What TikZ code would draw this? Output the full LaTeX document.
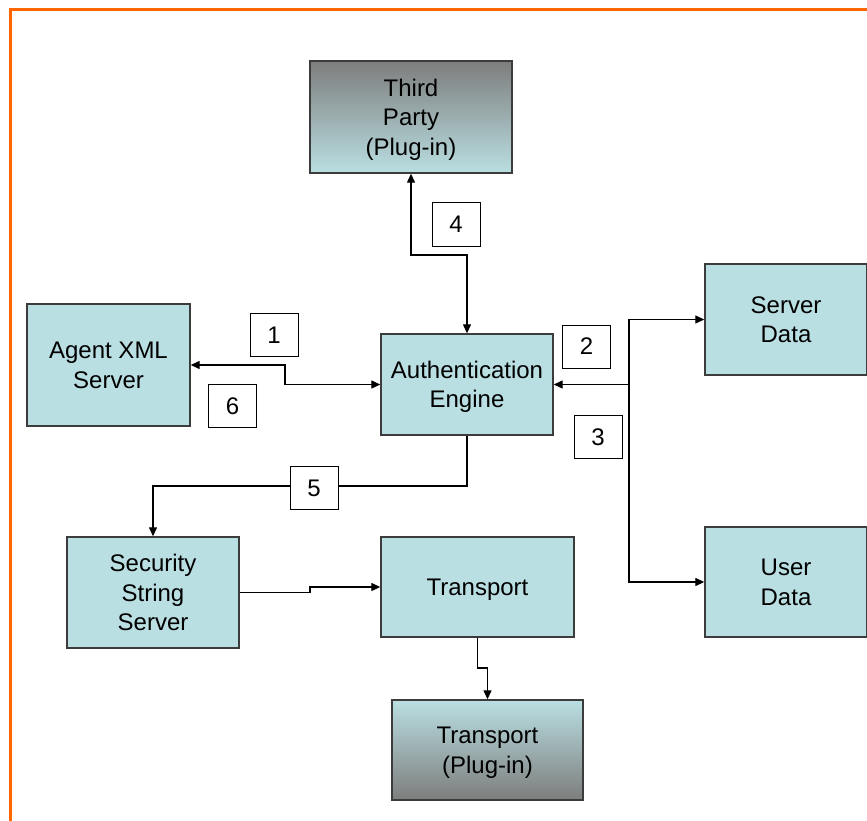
\documentclass[tikz,border=0pt]{standalone}
\usepackage{fontspec}
\setmainfont{Liberation Sans}
\usetikzlibrary{arrows.meta}
\definecolor{boxfill}{RGB}{186,223,226}
\definecolor{boxedge}{RGB}{60,60,60}
\definecolor{plugdark}{RGB}{125,125,125}
\definecolor{frameorange}{RGB}{255,102,0}
\tikzset{
  box/.style={draw=boxedge, line width=1.4pt, fill=boxfill, rectangle,
    align=center, inner sep=0pt, text depth=0pt,
    font=\fontsize{24}{29.5}\selectfont},
  plugtop/.style={box, shading=axis, top color=plugdark,
    middle color=boxfill!65!plugdark, bottom color=boxfill},
  plugbottom/.style={box, shading=axis, top color=boxfill,
    middle color=boxfill!80!plugdark, bottom color=plugdark},
  tag/.style={draw=black, line width=1pt, fill=white, minimum width=48pt,
    minimum height=43pt, inner sep=0pt, font=\fontsize{24}{30}\selectfont},
  link/.style={draw=black, line width=1.3pt, -{Triangle[length=9pt,width=8pt]}},
  dlink/.style={draw=black, line width=1.3pt,
    {Triangle[length=9pt,width=8pt]}-{Triangle[length=9pt,width=8pt]}},
}
\begin{document}
\begin{tikzpicture}[x=1pt,y=-1pt]
\useasboundingbox (0,0) rectangle (867,821);
\fill[white] (0,0) rectangle (867,821);
% orange frame along the top and left edges
\draw[frameorange, line width=3pt] (10.5,821) -- (10.5,9.5) -- (867,9.5);

% components
\node[plugtop, minimum width=202pt, minimum height=112pt] (tp) at (411,117) {Third\\Party\\(Plug-in)};
\node[box, minimum width=163pt, minimum height=122pt] (agent) at (108.5,365) {Agent XML\\Server};
\node[box, minimum width=172pt, minimum height=101pt] (auth) at (467,384.5) {Authentication\\Engine};
\node[box, minimum width=162pt, minimum height=111pt] (sd) at (786,319.5) {Server\\Data};
\node[box, minimum width=162pt, minimum height=110pt] (ud) at (786,582) {User\\Data};
\node[box, minimum width=172pt, minimum height=111pt] (ss) at (153,592.5) {Security\\String\\Server};
\node[box, minimum width=193pt, minimum height=100pt] (tr) at (477.5,587) {Transport};
\node[plugbottom, minimum width=191pt, minimum height=100pt] (tpi) at (487.5,750) {Transport\\(Plug-in)};

% junction points of the routed connectors
\coordinate (j4) at (0,255);
\coordinate (j1) at (285,0);
\coordinate (bus) at (629,0);
\coordinate (j5) at (0,486);
\coordinate (j2) at (310,0);
\coordinate (j6) at (0,668);

% connectors
\draw[dlink] (tp.south) -- (tp.south |- j4) -- (auth.north |- j4) -- (auth.north);
\draw[dlink] (agent.east) -| (j1 |- auth.west) -- (auth.west);
\draw[link] (bus |- auth.east) -- (auth.east);
\draw[link] (bus |- auth.east) |- (sd.west);
\draw[link] (bus |- auth.east) |- (ud.west);
\draw[link] (auth.south) -- (auth.south |- j5) -| (ss.north);
\draw[link] (ss.east) -| (j2 |- tr.west) -- (tr.west);
\draw[link] (tr.south) -- (tr.south |- j6) -| (tpi.north);

% step numbers
\node[tag] (n4) at (456,224.5) {4};
\node[tag] (n1) at (274,335) {1};
\node[tag] (n6) at (232.5,406) {6};
\node[tag] (n2) at (586.5,346.5) {2};
\node[tag] (n3) at (598,437) {3};
\node[tag] (n5) at (314,488) {5};
\end{tikzpicture}
\end{document}
